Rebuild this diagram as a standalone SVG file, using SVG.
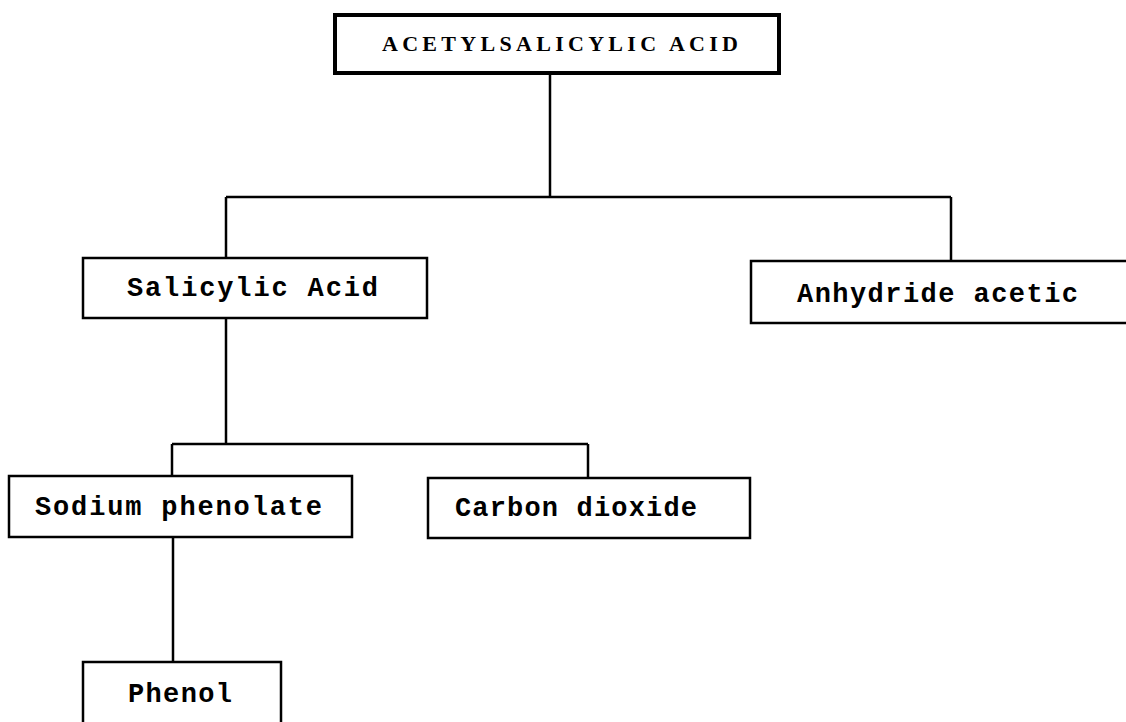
<svg xmlns="http://www.w3.org/2000/svg" width="1126" height="722" viewBox="0 0 1126 722">
  <style>
    .box { fill: #ffffff; stroke: #000000; stroke-width: 2.5; }
    .title-box { fill: #ffffff; stroke: #000000; stroke-width: 4; }
    .link { fill: none; stroke: #000000; stroke-width: 2.5; }
    .label { font-family: "Liberation Mono", "DejaVu Sans Mono", monospace; font-weight: bold; font-size: 27px; fill: #000000; }
    .title { font-family: "Liberation Serif", "Times New Roman", serif; font-weight: bold; font-size: 22px; fill: #000000; }
  </style>
  <rect width="1126" height="722" fill="#ffffff"/>

  <g id="connectors">
    <path class="link" d="M550 74 V197"/>
    <path class="link" d="M226 197 H951"/>
    <path class="link" d="M226 197 V258"/>
    <path class="link" d="M951 197 V261"/>
    <path class="link" d="M226 318 V444"/>
    <path class="link" d="M172 444 H588"/>
    <path class="link" d="M172 444 V476"/>
    <path class="link" d="M588 444 V478"/>
    <path class="link" d="M173 537 V662"/>
  </g>

  <g id="acetylsalicylic-acid">
    <rect class="title-box" x="335" y="15" width="444" height="58"/>
    <text class="title" x="382" y="51" textLength="356" lengthAdjust="spacing">ACETYLSALICYLIC ACID</text>
  </g>

  <g id="salicylic-acid">
    <rect class="box" x="83" y="258" width="344" height="60"/>
    <text class="label" x="127" y="296" textLength="251" lengthAdjust="spacing">Salicylic Acid</text>
  </g>

  <g id="anhydride-acetic">
    <rect class="box" x="751" y="261" width="380" height="62"/>
    <text class="label" x="797" y="302" textLength="281" lengthAdjust="spacing">Anhydride acetic</text>
  </g>

  <g id="sodium-phenolate">
    <rect class="box" x="9" y="476" width="343" height="61"/>
    <text class="label" x="35" y="515" textLength="287" lengthAdjust="spacing">Sodium phenolate</text>
  </g>

  <g id="carbon-dioxide">
    <rect class="box" x="428" y="478" width="322" height="60"/>
    <text class="label" x="455" y="516" textLength="242" lengthAdjust="spacing">Carbon dioxide</text>
  </g>

  <g id="phenol">
    <rect class="box" x="83" y="662" width="198" height="80"/>
    <text class="label" x="128" y="702" textLength="104" lengthAdjust="spacing">Phenol</text>
  </g>
</svg>
